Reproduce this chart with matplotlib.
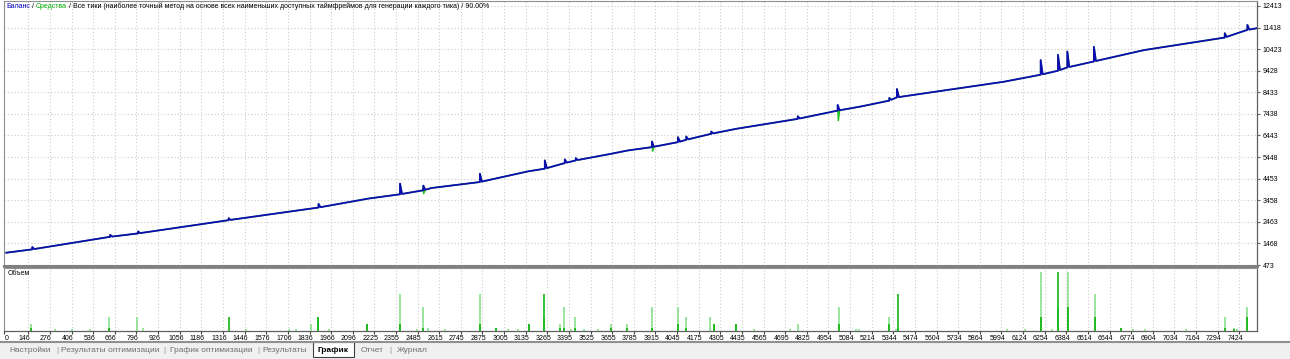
import numpy as np
import matplotlib
matplotlib.use("Agg")
import matplotlib.pyplot as plt
import matplotlib.patches as mpatches
import matplotlib.transforms as mtransforms

plt.rcParams['font.family'] = ['Liberation Sans', 'DejaVu Sans']

# balance line knots (trade number, balance)
bal_x = [14, 170, 638, 806, 1350, 1890, 2190, 2380, 2520, 2570, 2860, 3150, 3250,
         3370, 3436, 3650, 3750, 3894, 4050, 4100, 4250, 4400, 4770, 5010, 5150,
         5320, 5366, 6010, 6230, 6334, 6390, 6550, 6850, 7336, 7412, 7472, 7530]
bal_y = [1040, 1194, 1773, 1929, 2540, 3122, 3535, 3733, 3917, 4023, 4298, 4790, 4913,
         5171, 5295, 5601, 5754, 5906, 6136, 6244, 6520, 6750, 7209, 7590, 7780,
         8050, 8201, 8922, 9244, 9427, 9580, 9856, 10378, 10957, 11158, 11310, 11388]

# short spikes on the curve
spike_x = [170, 638, 806, 1350, 1890, 2380, 2520, 2860, 3250, 3370, 3436, 3894, 4050,
           4100, 4250, 4770, 5010, 5320, 5366, 6230, 6334, 6390, 6550, 7336, 7472]
spike_top = [1300, 1864, 2020, 2631, 3288, 4225, 4133, 4684, 5295, 5340, 5400, 6167, 6366,
             6397, 6626, 7329, 7852, 8174, 8587, 9918, 10162, 10314, 10529, 11158, 11540]

# equity dips below balance
dip_x = [2522, 3898, 5014]
dip_low = [3765, 5720, 7131]

# volume (trade number, light bar, dark bar) in lots
vol_x = [162, 304, 406, 514, 634, 800, 836, 1350, 1454, 1710, 1754, 1842, 1890, 1952,
         2184, 2380, 2482, 2520, 2550, 2650, 2860, 2956, 3026, 3090, 3154, 3244, 3340,
         3366, 3410, 3434, 3486, 3570, 3650, 3744, 3894, 4050, 4096, 4242, 4264, 4402,
         4510, 4726, 4770, 5020, 5120, 5138, 5316, 5360, 5370, 6026, 6136, 6230, 6300,
         6336, 6392, 6554, 6710, 6786, 6856, 7102, 7336, 7390, 7410, 7470]
vol_light = [0.04, 0.01, 0.01, 0.01, 0.08, 0.08, 0.02, 0, 0.01, 0.01, 0.01, 0.04, 0.08, 0.01,
             0.04, 0.21, 0.01, 0.14, 0.02, 0.01, 0.21, 0.02, 0.01, 0.01, 0.04, 0.08, 0.04,
             0.14, 0.01, 0.08, 0.01, 0.01, 0.04, 0.04, 0.14, 0.14, 0.08, 0.08, 0.04, 0.04,
             0.01, 0.01, 0.04, 0.14, 0.01, 0.01, 0.08, 0.01, 0.02, 0.01, 0.01, 0.34, 0.01,
             0.14, 0.34, 0.21, 0.02, 0.01, 0.01, 0.01, 0.08, 0.02, 0.01, 0.14]
vol_dark = [0.02, 0, 0, 0, 0.02, 0, 0, 0.08, 0, 0, 0, 0, 0.08, 0,
            0.04, 0.04, 0, 0.02, 0, 0, 0.04, 0.02, 0, 0, 0.04, 0.21, 0.02,
            0.02, 0, 0.02, 0, 0, 0.02, 0.02, 0.02, 0.04, 0.02, 0, 0.04, 0.04,
            0, 0, 0, 0.04, 0, 0, 0.04, 0, 0.21, 0, 0, 0.08, 0,
            0.34, 0.14, 0.08, 0.02, 0, 0, 0, 0.02, 0.01, 0, 0.08]

x_ticks = [0, 146, 276, 406, 536, 666, 796, 926, 1056, 1186, 1316, 1446, 1576, 1706, 1836,
           1966, 2096, 2225, 2355, 2485, 2615, 2745, 2875, 3005, 3135, 3265, 3395, 3525,
           3655, 3785, 3915, 4045, 4175, 4305, 4435, 4565, 4695, 4825, 4954, 5084, 5214,
           5344, 5474, 5604, 5734, 5864, 5994, 6124, 6254, 6384, 6514, 6644, 6774, 6904,
           7034, 7164, 7294, 7424]
y_ticks = [473, 1468, 2463, 3458, 4453, 5448, 6443, 7438, 8433, 9428, 10423, 11418, 12413]

tabs = ["Настройки", "Результаты оптимизации", "График оптимизации", "Результаты",
        "График", "Отчет", "Журнал"]
tab_cx = [30, 110, 211, 285, 333, 372, 412]
tab_seps = [57, 164, 258, 390]

W, H = 1290, 359
fig = plt.figure(figsize=(W / 100, H / 100), dpi=100, facecolor='white')


def fy(py):
    return 1 - py / H


def build_path(extra_x=(), extra_y=()):
    pts = [(x, 0, y) for x, y in zip(bal_x, bal_y)]
    for sx, top in zip(spike_x, spike_top):
        pts.append((sx, 1, top))
        pts.append((sx + 12, 2, np.interp(sx + 12, bal_x, bal_y)))
    for dx, low in zip(extra_x, extra_y):
        pts.append((dx, 3, low))
    pts.sort(key=lambda p: (p[0], p[1]))
    return [p[0] for p in pts], [p[2] for p in pts]


grid_kw = dict(color='#cccccc', linestyle=(0, (1, 2)), linewidth=0.8)

# main balance / equity panel
ax = fig.add_axes([4 / W, fy(266), 1253 / W, 265 / H])
ex, ey = build_path(dip_x, dip_low)
bx, by = build_path()
ax.plot(ex, ey, color='#22c022', lw=1.1, zorder=3)
ax.plot(bx, by, color='#0c0cb0', lw=1.3, zorder=4)
ax.set_xlim(0, 7530)
ax.set_ylim(427, 12642)
ax.set_xticks(x_ticks[1:])
ax.set_yticks(y_ticks)
ax.yaxis.tick_right()
ax.tick_params(axis='x', length=0, labelbottom=False)
ax.tick_params(axis='y', length=2, labelsize=5, pad=2, color='#606060')
ax.grid(True, **grid_kw)
for s in ['left', 'top']:
    ax.spines[s].set_color('#909090')
    ax.spines[s].set_linewidth(0.8)
ax.spines['right'].set_color('#606060')
ax.spines['right'].set_linewidth(0.9)
ax.spines['bottom'].set_color('#808080')
ax.spines['bottom'].set_linewidth(2.2)

# volume panel
vax = fig.add_axes([4 / W, fy(331), 1253 / W, 63 / H])
vx = np.array(vol_x)
vl = np.array(vol_light)
vd = np.array(vol_dark)
m = vl > 0
vax.vlines(vx[m], 0, vl[m], color='#80dc80', lw=1.1, zorder=3)
m = vd > 0
vax.vlines(vx[m], 0, vd[m], color='#00b000', lw=1.1, zorder=4)
vax.set_xlim(0, 7530)
vax.set_ylim(0, 0.36)
vax.set_yticks([])
vax.set_xticks(x_ticks)
vax.set_xticklabels([str(t) for t in x_ticks])
vax.tick_params(axis='x', length=2, labelsize=5, pad=1, color='#404040')
vax.grid(True, axis='x', **grid_kw)
for i, lbl in enumerate(vax.get_xticklabels()):
    dx = 3 if i == 0 else -4
    off = mtransforms.ScaledTranslation(dx / 100, 0, fig.dpi_scale_trans)
    lbl.set_transform(lbl.get_transform() + off)
for s in ['left', 'top']:
    vax.spines[s].set_color('#909090')
    vax.spines[s].set_linewidth(0.8)
for s in ['right', 'bottom']:
    vax.spines[s].set_color('#606060')
    vax.spines[s].set_linewidth(0.9)
vax.text(0.0025, 0.97, "Объем", transform=vax.transAxes, fontsize=5,
         va='top', ha='left')

# title line with coloured parts
renderer = fig.canvas.get_renderer()
parts = [("Баланс", '#0000c0'), (" / ", 'black'), ("Средства", '#00b000'),
         (" / Все тики (наиболее точный метод на основе всех наименьших доступных "
          "таймфреймов для генерации каждого тика) / 90.00%", 'black')]
xpos = 6 / W
for txt, col in parts:
    t = fig.text(xpos, fy(6), txt, color=col, fontsize=5, va='center', ha='left')
    bb = t.get_window_extent(renderer)
    xpos += bb.width / W

# tab bar at the bottom
fig.patches.append(mpatches.Rectangle((0, 0), 1, fy(342), transform=fig.transFigure,
                                      facecolor='#f0f0f0', edgecolor='none', zorder=0))
fig.lines.append(plt.Line2D([0, 1], [fy(342), fy(342)], transform=fig.transFigure,
                            color='#909090', lw=1.5))
fig.patches.append(mpatches.Rectangle((313 / W, fy(357)), 41 / W, 15 / H,
                                      transform=fig.transFigure, facecolor='white',
                                      edgecolor='#404040', lw=0.8, zorder=1))
for name, cx in zip(tabs, tab_cx):
    bold = name == "График"
    fig.text(cx / W, fy(350), name, fontsize=6, ha='center', va='center',
             color='black' if bold else '#707070',
             fontweight='bold' if bold else 'normal', zorder=2)
for sx in tab_seps:
    fig.text(sx / W, fy(350), "|", fontsize=6, ha='center', va='center', color='#909090')

fig.savefig('out.png', dpi=100, facecolor='white')
